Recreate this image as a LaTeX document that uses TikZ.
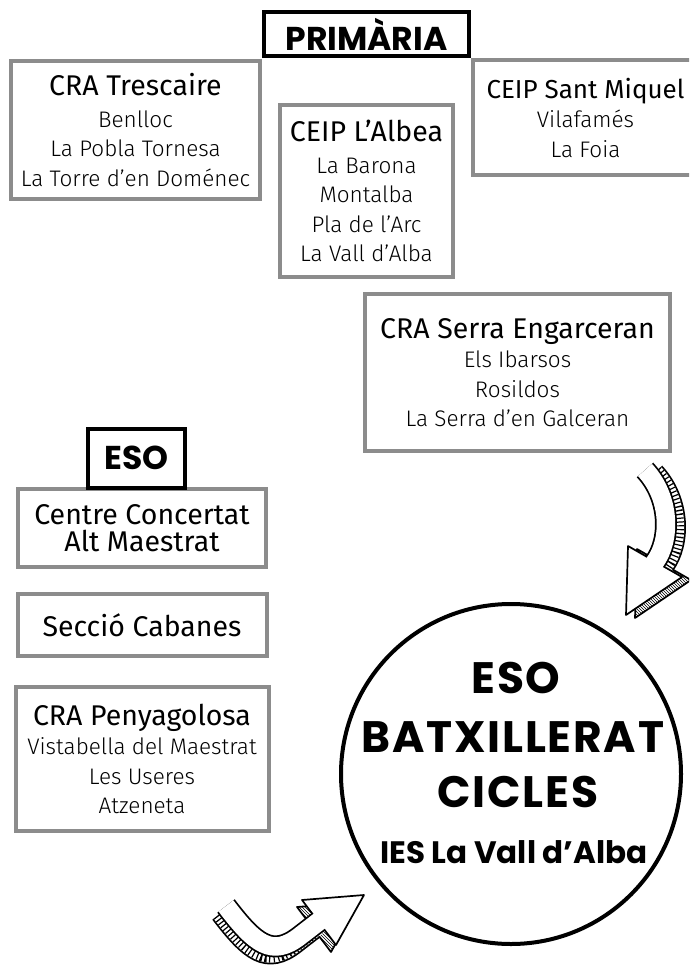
\documentclass[tikz,border=0pt]{standalone}
\usepackage{fontspec}
\setmainfont{Fira Sans}
\newfontfamily\displayfont{Poppins}
\newfontfamily\townfont{Fira Sans Light}
\usepackage{tikz}
\usetikzlibrary{positioning,patterns}

\definecolor{boxgray}{HTML}{8C8C8C}
\newcommand{\schoolname}[1]{{\rmfamily\fontsize{28.5}{29.5}\selectfont #1}}

\tikzset{
  headbox/.style={draw=black, line width=4.5pt, fill=white, inner sep=0pt, font=\displayfont\bfseries\fontsize{33}{33}\selectfont},
  schoolbox/.style={draw=boxgray, line width=4pt, fill=white, inner sep=0pt, align=center, font=\townfont\fontsize{22.5}{29.5}\selectfont},
  bigtext/.style={inner sep=0pt, font=\displayfont\bfseries\fontsize{44}{44}\selectfont\addfontfeatures{LetterSpace=4}},
  bandedge/.style={line width=22pt},
  bandface/.style={white, line width=18.5pt},
  bandhatch/.style={line width=18.5pt, dash pattern=on 1.2pt off 2.4pt},
  tipface/.style={draw, line width=1.7pt, fill=white, line join=round},
  tiphatch/.style={draw, line width=1.7pt, fill=white, postaction={pattern=north west lines}, line join=round}
}

\begin{document}
\begin{tikzpicture}[x=1pt, y=-1pt]
\useasboundingbox[fill=white] (0,0) rectangle (689,965);
\clip (0,0) rectangle (689,965);

% primaria
\node[headbox, minimum width=205pt, minimum height=44pt] (prim) at (366.5,34) {PRIMÀRIA};
\node[schoolbox, minimum width=249pt, minimum height=138pt] (tresc) at (135.5,130)
  {\schoolname{CRA Trescaire}\\[2pt] Benlloc\\ La Pobla Tornesa\\ La Torre d’en Doménec};
\node[schoolbox, minimum width=173pt, minimum height=172pt] (albea) at (366.5,191)
  {\schoolname{CEIP L’Albea}\\[2pt] La Barona\\ Montalba\\ Pla de l’Arc\\ La Vall d’Alba};
\node[schoolbox, minimum width=225pt, minimum height=115pt] (miquel) at (585.5,117.5)
  {{\rmfamily\fontsize{26}{29.5}\selectfont CEIP Sant Miquel}\\ Vilafamés\\ La Foia};
\node[schoolbox, minimum width=305pt, minimum height=157pt] (serra) at (517.5,372.5)
  {\schoolname{CRA Serra Engarceran}\\ Els Ibarsos\\ Rosildos\\ La Serra d’en Galceran};

% eso
\node[schoolbox, minimum width=248pt, minimum height=78pt] (concertat) at (142,528)
  {\schoolname{Centre Concertat}\\[-3pt] \schoolname{Alt Maestrat}};
\node[headbox, minimum width=97pt, minimum height=59pt, above=-3pt of concertat, xshift=-5.5pt] (eso) {ESO};
\node[schoolbox, minimum width=249pt, minimum height=62pt, below=23pt of concertat] (seccio)
  {\schoolname{Secció Cabanes}};
\node[schoolbox, minimum width=253pt, minimum height=144pt, below=27pt of seccio] (penya)
  {\schoolname{CRA Penyagolosa}\\ Vistabella del Maestrat\\ Les Useres\\ Atzeneta};

% institut
\node[draw, circle, line width=4pt, minimum size=340pt] (ies) at (511,774) {};
\node[bigtext] (lvleso) at (516,678) {ESO};
\node[bigtext] (lvlbatx) at (513,737) {BATXILLERAT};
\node[bigtext] (lvlcicles) at (518,792) {CICLES};
\node[bigtext, font=\displayfont\bfseries\fontsize{31}{31}\selectfont] (lvlvall) at (514,852) {IES La Vall d’Alba};

% arrow from serra down to the circle
\begin{scope}[shift={(9,3)}]
  \draw[bandedge] (645,470) .. controls (671,498) and (671,540) .. (655,562) -- (652,567);
  \draw[tiphatch] (628,546) -- (626,615) -- (682,577) -- cycle;
  \draw[bandface] (645,470) .. controls (671,498) and (671,540) .. (655,562) -- (652,567);
  \draw[bandhatch] (645,470) .. controls (671,498) and (671,540) .. (655,562);
\end{scope}
\draw[bandedge] (645,470) .. controls (671,498) and (671,540) .. (655,562) -- (652,567);
\draw[tipface] (628,546) -- (626,615) -- (682,577) -- cycle;
\draw[bandface] (645,470) .. controls (671,498) and (671,540) .. (655,562) -- (652,567);

% arrow from the eso column to the circle
\begin{scope}[shift={(-5,7)}]
  \draw[bandedge] (226,906) .. controls (255,944) and (272,958) .. (300,936) -- (322,919);
  \draw[tiphatch] (302,900) -- (364,895) -- (336,945) -- cycle;
  \draw[bandface] (226,906) .. controls (255,944) and (272,958) .. (300,936) -- (322,919);
  \draw[bandhatch] (226,906) .. controls (255,944) and (272,958) .. (300,936) -- (318,922);
\end{scope}
\draw[bandedge] (226,906) .. controls (255,944) and (272,958) .. (300,936) -- (322,919);
\draw[tipface] (302,900) -- (364,895) -- (336,945) -- cycle;
\draw[bandface] (226,906) .. controls (255,944) and (272,958) .. (300,936) -- (322,919);
\end{tikzpicture}
\end{document}
